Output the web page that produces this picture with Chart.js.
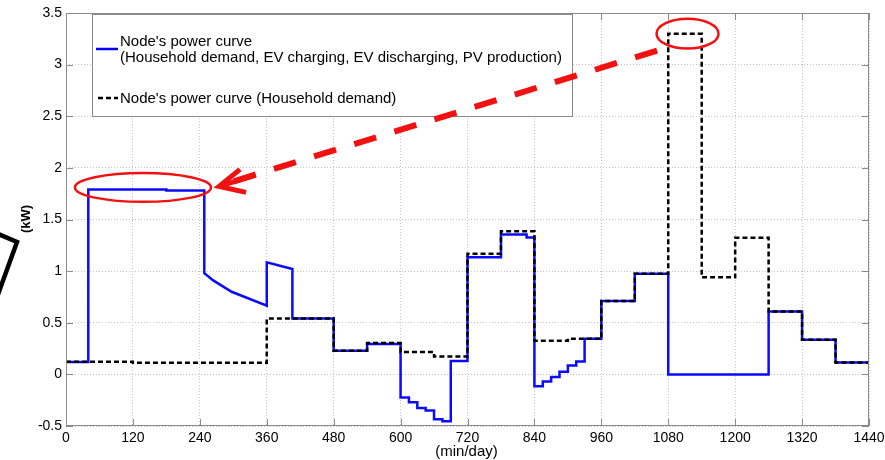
<!DOCTYPE html>
<html><head><meta charset="utf-8">
<script src="https://cdn.jsdelivr.net/npm/chart.js@4.4.1/dist/chart.umd.min.js"></script>
<style>html,body{margin:0;padding:0;background:#fff;}#wrap{width:885px;height:460px;position:relative;}</style>
</head><body><div id="wrap"><canvas id="c" width="885" height="460"></canvas></div>
<script>
// ---- data ----
const xTicks = [0,120,240,360,480,600,720,840,960,1080,1200,1320,1440];
const yTicks = [-0.5,0,0.5,1,1.5,2,2.5,3,3.5];
const xTitle = "(min/day)";
const yTitle = "(kW)";
const legendBlue = ["Node's power curve", "(Household demand, EV charging, EV discharging, PV production)"];
const legendBlack = "Node's power curve (Household demand)";

// vertices of the blue curve (with PV, EV)
const blueX = [0,40,40,180,180,248,248,264,297,360,360,406,406,480,480,540,540,600,600,615,615,630,630,645,645,660,660,675,675,690,690,720,720,780,780,826,826,840,840,855,855,870,870,885,885,900,900,915,915,930,930,960,960,1020,1020,1080,1080,1260,1260,1320,1320,1380,1380,1440];
const blueY = [0.12,0.12,1.79,1.79,1.78,1.78,0.98,0.91,0.80,0.665,1.085,1.02,0.54,0.54,0.23,0.23,0.295,0.295,-0.225,-0.225,-0.27,-0.27,-0.325,-0.325,-0.35,-0.35,-0.435,-0.435,-0.455,-0.455,0.13,0.13,1.135,1.135,1.355,1.355,1.325,1.325,-0.115,-0.115,-0.07,-0.07,-0.025,-0.025,0.025,0.025,0.085,0.085,0.125,0.125,0.345,0.345,0.71,0.71,0.975,0.975,0,0,0.61,0.61,0.335,0.335,0.115,0.115];

// vertices of the black curve (household demand only)
const blackX = [0,120,120,360,360,480,480,540,540,600,600,660,660,720,720,780,780,840,840,900,900,960,960,1020,1020,1080,1080,1140,1140,1200,1200,1260,1260,1320,1320,1380,1380,1440];
const blackY = [0.123,0.123,0.113,0.113,0.54,0.54,0.23,0.23,0.305,0.305,0.216,0.216,0.172,0.172,1.168,1.168,1.385,1.385,0.326,0.326,0.345,0.345,0.71,0.71,0.975,0.975,3.30,3.30,0.94,0.94,1.324,1.324,0.61,0.61,0.335,0.335,0.115,0.115];

// annotation anchors (data units)
const ellipseA = {x:138, y:1.811, rx:122, ry:0.14};
const ellipseB = {x:1114.6, y:3.30, rx:55.6, ry:0.145};
const arrowFrom = {x:1060, y:3.136};
const arrowTo = {x:274.4, y:1.821};

const toPts = (xs, ys) => xs.map((x,i)=>({x:x, y:ys[i]}));

const decor = {
  id:'decor',
  afterDatasetsDraw(chart){
    const ctx = chart.ctx, a = chart.chartArea;
    const xs = chart.scales.x, ys = chart.scales.y;
    ctx.save();
    // frame
    ctx.strokeStyle = '#8a8a8a'; ctx.lineWidth = 1;
    ctx.strokeRect(Math.round(a.left)+0.5, Math.round(a.top)+0.5, Math.round(a.right-a.left)-1, Math.round(a.bottom-a.top)-1);
    // inward ticks on all sides
    ctx.beginPath();
    const L = 7;
    xTicks.forEach(v=>{const p=Math.round(xs.getPixelForValue(v))+0.5;
      ctx.moveTo(p,a.bottom); ctx.lineTo(p,a.bottom-L); ctx.moveTo(p,a.top); ctx.lineTo(p,a.top+L);});
    yTicks.forEach(v=>{const p=Math.round(ys.getPixelForValue(v))+0.5;
      ctx.moveTo(a.left,p); ctx.lineTo(a.left+L,p); ctx.moveTo(a.right,p); ctx.lineTo(a.right-L,p);});
    ctx.stroke();

    // legend box
    const lx=92.5, ly=14.5, lw=480, lh=102;
    ctx.fillStyle='#fff'; ctx.fillRect(lx,ly,lw,lh);
    ctx.strokeStyle='#8a8a8a'; ctx.lineWidth=1; ctx.strokeRect(lx,ly,lw,lh);
    ctx.fillStyle='#000'; ctx.font='15px "Liberation Sans", Arial, sans-serif';
    ctx.textBaseline='middle'; ctx.textAlign='left';
    ctx.fillText(legendBlue[0],120,42);
    ctx.fillText(legendBlue[1],120,58);
    ctx.fillText(legendBlack,120,99);
    ctx.strokeStyle='#0000ff'; ctx.lineWidth=2.5; ctx.setLineDash([]);
    ctx.beginPath(); ctx.moveTo(96,49); ctx.lineTo(118,49); ctx.stroke();
    ctx.strokeStyle='#000'; ctx.lineWidth=2.5; ctx.setLineDash([5,3]);
    ctx.beginPath(); ctx.moveTo(98,98); ctx.lineTo(118,98); ctx.stroke();
    ctx.setLineDash([]);

    // red ellipses
    ctx.strokeStyle='#f21010'; ctx.lineWidth=2.5;
    [ellipseA, ellipseB].forEach(e=>{
      const cx=xs.getPixelForValue(e.x), cy=ys.getPixelForValue(e.y);
      const rx=xs.getPixelForValue(e.x+e.rx)-cx, ry=cy-ys.getPixelForValue(e.y+e.ry);
      ctx.beginPath(); ctx.ellipse(cx,cy,rx,ry,0,0,Math.PI*2); ctx.stroke();
    });
    // red dashed arrow
    const x0=xs.getPixelForValue(arrowFrom.x), y0=ys.getPixelForValue(arrowFrom.y);
    const x1=xs.getPixelForValue(arrowTo.x), y1=ys.getPixelForValue(arrowTo.y);
    ctx.lineWidth=6; ctx.lineCap='butt'; ctx.setLineDash([23,19]);
    ctx.beginPath(); ctx.moveTo(x0,y0); ctx.lineTo(x1+8,y1-3); ctx.stroke();
    ctx.setLineDash([]); ctx.lineWidth=5; ctx.lineJoin='miter';
    ctx.beginPath(); ctx.moveTo(x1+21,y1-17); ctx.lineTo(x1,y1); ctx.lineTo(x1+27,y1+6); ctx.stroke();
    ctx.beginPath(); ctx.moveTo(x1+3,y1-1); ctx.lineTo(x1+36,y1-11); ctx.stroke();

    // black partial shape at left margin
    ctx.strokeStyle='#000'; ctx.lineWidth=4.5;
    ctx.beginPath(); ctx.moveTo(-4,233); ctx.lineTo(17,242); ctx.lineTo(-4,300); ctx.stroke();

    // axis titles
    ctx.fillStyle='#000'; ctx.textAlign='center'; ctx.textBaseline='middle';
    ctx.font='15px "Liberation Sans", Arial, sans-serif';
    ctx.fillText(xTitle,(a.left+a.right)/2-1,452);
    ctx.save(); ctx.translate(26,219); ctx.rotate(-Math.PI/2);
    ctx.font='bold 13px "Liberation Sans", Arial, sans-serif';
    ctx.fillText(yTitle,0,0); ctx.restore();
    ctx.restore();
  }
};

new Chart(document.getElementById('c'), {
  type:'line',
  data:{datasets:[
    {label:legendBlack, data:toPts(blackX,blackY), borderColor:'#000', borderWidth:2.5, borderDash:[5,3], pointRadius:0, fill:false, tension:0},
    {label:legendBlue.join(' '), data:toPts(blueX,blueY), borderColor:'#0a0aff', borderWidth:2.5, pointRadius:0, fill:false, tension:0}
  ]},
  options:{
    responsive:false, devicePixelRatio:1, animation:false,
    layout:{padding:{left:0, top:13, right:16, bottom:0}},
    plugins:{legend:{display:false}, tooltip:{enabled:false}},
    scales:{
      x:{type:'linear', min:0, max:1440,
        afterBuildTicks:s=>{s.ticks=xTicks.map(v=>({value:v}));},
        afterFit:s=>{s.height=34; s.paddingLeft=0; s.paddingRight=0;},
        ticks:{color:'#000', font:{size:14, family:'"Liberation Sans", Arial, sans-serif'}, maxRotation:0, autoSkip:false, padding:4, callback:v=>String(v)},
        grid:{color:'#c4c4c4', lineWidth:1, drawTicks:false},
        border:{display:false, dash:[1,2]}},
      y:{type:'linear', min:-0.5, max:3.5,
        afterBuildTicks:s=>{s.ticks=yTicks.map(v=>({value:v}));},
        afterFit:s=>{s.width=66; s.paddingTop=0; s.paddingBottom=0;},
        ticks:{color:'#000', font:{size:14, family:'"Liberation Sans", Arial, sans-serif'}, padding:4, callback:v=>String(v)},
        grid:{color:'#c4c4c4', lineWidth:1, drawTicks:false},
        border:{display:false, dash:[1,2]}}
    }
  },
  plugins:[decor]
});
</script></body></html>
